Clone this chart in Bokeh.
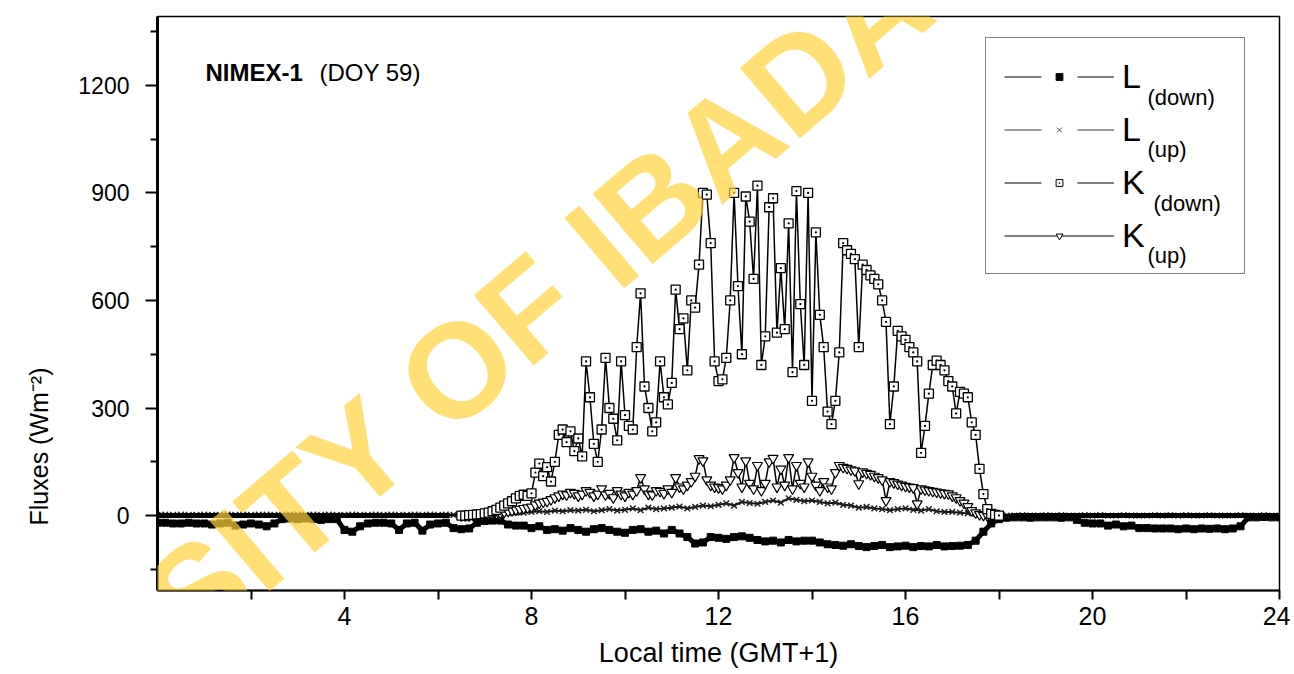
import numpy as np
from bokeh.plotting import figure
from bokeh.models import Range1d, FixedTicker, Legend, LegendItem, Label, Title, ColumnDataSource
from bokeh.embed import file_html
from bokeh.resources import INLINE

# ---------------- data ----------------
# Longwave fluxes, sampled every 10 minutes from 00:00 to 24:00
L_STEP_MIN = 10
L_DOWN = [
    -20, -20, -22, -22, -20, -22,
    -22, -25, -22, -20, -28, -25,
    -22, -25, -30, -22, -10, -8,
    -10, -8, -10, -12, -10, -10,
    -40, -45, -30, -22, -20, -20,
    -22, -40, -22, -20, -42, -25,
    -22, -20, -35, -38, -36, -20,
    -15, -14, -14, -25, -28, -28,
    -35, -30, -40, -38, -42, -35,
    -40, -45, -38, -35, -40, -45,
    -48, -40, -38, -45, -42, -50,
    -40, -50, -60, -78, -75, -60,
    -62, -65, -60, -58, -62, -68,
    -72, -70, -75, -68, -72, -70,
    -70, -75, -80, -82, -84, -80,
    -85, -88, -85, -82, -88, -86,
    -84, -88, -85, -86, -82, -86,
    -85, -84, -82, -70, -45, -22,
    -10, -6, -5, -5, -6, -5,
    -5, -5, -6, -5, -12, -20,
    -22, -22, -28, -25, -30, -28,
    -35, -35, -36, -36, -36, -38,
    -36, -38, -36, -37, -36, -38,
    -36, -30, -5, -5, -4, -5,
    -5,
]
L_UP = [
    2, 3, 2, 3, 2, 2,
    3, 2, 2, 3, 2, 3,
    2, 3, 3, 2, 2, 3,
    3, 2, 3, 2, 3, 2,
    2, 3, 2, 2, 3, 2,
    3, 2, 2, 3, 2, 3,
    2, 3, 2, 3, 3, 4,
    4, 5, 6, 7, 8, 8,
    10, 12, 10, 14, 12, 15,
    14, 16, 12, 15, 18, 14,
    16, 20, 15, 22, 18, 20,
    22, 25, 20, 24, 28, 26,
    30, 34, 28, 38, 35, 33,
    38, 42, 36, 48, 44, 40,
    42, 38, 34, 36, 30, 28,
    22, 24, 20, 18, 15, 18,
    20, 16, 14, 18, 12, 10,
    10, 8, 6, 5, 3, 2,
    1, 0, 0, 1, 0, 0,
    1, 0, 1, 0, 0, 1,
    0, 1, 0, 0, 1, 0,
    0, 0, 1, 0, 1, 0,
    1, 0, 0, 1, 0, 0,
    0, 1, 0, 0, 1, 0,
    0,
]

# Shortwave fluxes: 15-min at night, 5-min from 06:30 to 18:00
K_NIGHT_AM = [0, 0, 0, 0, 0, 0, 0, 0, 0, 0, 0, 0, 0,
              0, 0, 0, 0, 0, 0, 0, 0, 0, 0, 0, 0, 0]          # 00:00-06:15
K_NIGHT_PM = [0, 0, 0, 0, 0, 0, 0, 0, 0, 0, 0, 0,
              0, 0, 0, 0, 0, 0, 0, 0, 0, 0, 0, 0]             # 18:15-24:00
K_DOWN_DAY = [
    0, 0, 1, 2, 3, 4,
    6, 8, 12, 16, 22, 28, 34, 40, 48, 55, 58, 55,
    62, 120, 145, 110, 135, 95, 150, 225, 240, 205, 235, 180,
    215, 165, 430, 330, 200, 150, 240, 440, 300, 270, 210, 430,
    280, 250, 240, 470, 620, 360, 300, 235, 260, 430, 330, 310,
    370, 630, 520, 550, 405, 600, 580, 700, 900, 895, 760, 430,
    375, 380, 440, 600, 900, 640, 450, 890, 820, 660, 920, 420,
    500, 860, 885, 510, 690, 520, 815, 400, 905, 590, 420, 900,
    320, 790, 560, 470, 290, 255, 320, 455, 760, 740, 730, 715,
    470, 700, 685, 670, 660, 645, 600, 540, 255, 360, 515, 500,
    490, 470, 455, 430, 175, 250, 340, 420, 432, 420, 405, 375,
    360, 285, 345, 340, 330, 260, 225, 130, 60, 18, 5, 2,
    0,
]
K_UP_DAY = [
    0, 0, 0, 1, 1, 2,
    2, 3, 4, 6, 8, 10, 12, 14, 16, 18, 20, 22,
    24, 30, 35, 38, 40, 45, 50, 55, 60, 58, 65, 62,
    55, 60, 70, 65, 55, 60, 75, 58, 62, 50, 70, 60,
    55, 65, 60, 70, 106, 75, 60, 58, 70, 68, 62, 75,
    65, 106, 80, 75, 85, 95, 110, 159, 153, 100, 85, 80,
    78, 75, 85, 100, 162, 120, 80, 153, 90, 75, 140, 70,
    90, 150, 160, 80, 130, 85, 162, 75, 140, 90, 80, 150,
    110, 85, 70, 95, 80, 75, 120, 140, 135, 132, 128, 125,
    89, 122, 118, 115, 110, 106, 100, 42, 95, 92, 88, 85,
    82, 80, 78, 33, 75, 72, 70, 68, 66, 64, 62, 61,
    55, 50, 42, 35, 25, 14, 8, 3, 1, 0, 0, 0,
    0,
]

X_MAJOR = [4, 8, 12, 16, 20, 24]
X_MINOR = [2, 6, 10, 14, 18, 22]
Y_MAJOR = [0, 300, 600, 900, 1200]
Y_MINOR = [-150, 150, 450, 750, 1050, 1350]

SERIES_NAMES = ["L", "L", "K", "K"]
SERIES_SUBS = ["(down)", "(up)", "(down)", "(up)"]
TITLE_BOLD = "NIMEX-1"
TITLE_REST = "(DOY 59)"
X_TITLE = "Local time (GMT+1)"
Y_TITLE = "Fluxes (Wm\u207b\u00b2)"
WATERMARK = "UNIVERSITY OF IBADAN"

# ---------------- time axes ----------------
L_TIME = np.arange(len(L_DOWN)) * L_STEP_MIN / 60.0
K_TIME_AM = np.arange(len(K_NIGHT_AM)) * 0.25
K_TIME_DAY = 6.5 + np.arange(len(K_DOWN_DAY)) * 5 / 60.0
K_TIME_PM = 18.25 + np.arange(len(K_NIGHT_PM)) * 0.25
K_TIME = np.concatenate([K_TIME_AM, K_TIME_DAY, K_TIME_PM])
K_DOWN = K_NIGHT_AM + K_DOWN_DAY + K_NIGHT_PM
K_UP = K_NIGHT_AM + K_UP_DAY + K_NIGHT_PM

FONT = "Liberation Sans"

p = figure(width=1290, height=674, output_backend="svg", toolbar_location=None,
           x_range=Range1d(0, 24), y_range=Range1d(-209, 1392),
           min_border_left=157, min_border_right=11, min_border_top=16, min_border_bottom=84,
           background_fill_color="white", border_fill_color="white")
p.xgrid.visible = False
p.ygrid.visible = False
p.outline_line_color = "black"
p.outline_line_width = 1.5

xa = p.xaxis[0]
xa.ticker = FixedTicker(ticks=X_MAJOR, minor_ticks=X_MINOR)
xa.axis_label = X_TITLE
xa.axis_label_text_font = FONT
xa.axis_label_text_font_size = "27px"
xa.axis_label_text_font_style = "normal"
xa.axis_label_text_color = "black"
xa.axis_label_standoff = 10
xa.major_label_text_font = FONT
xa.major_label_text_font_size = "25px"
xa.major_label_text_color = "black"
xa.major_label_standoff = 7
xa.major_tick_in = 0
xa.major_tick_out = 9
xa.minor_tick_in = 0
xa.minor_tick_out = 9
xa.axis_line_width = 2
xa.major_tick_line_width = 2
xa.minor_tick_line_width = 2

ya = p.yaxis[0]
ya.ticker = FixedTicker(ticks=Y_MAJOR, minor_ticks=Y_MINOR)
ya.major_label_text_font = FONT
ya.major_label_text_font_size = "23px"
ya.major_label_text_color = "black"
ya.major_label_standoff = 16
ya.major_tick_in = 0
ya.major_tick_out = 12
ya.minor_tick_in = 0
ya.minor_tick_out = 7
ya.axis_line_width = 3
ya.major_tick_line_width = 2
ya.minor_tick_line_width = 2

# y title: a side title so that it can sit lower than the frame centre, as in the reference
p.add_layout(Title(text=Y_TITLE, align="left", offset=65, vertical_align="middle",
                   standoff=44, text_font=FONT, text_font_size="25px",
                   text_font_style="normal", text_color="black"), "left")

# ---------------- data renderers ----------------
src_l = ColumnDataSource(dict(t=L_TIME, down=L_DOWN, up=L_UP))
src_k = ColumnDataSource(dict(t=K_TIME, down=K_DOWN, up=K_UP))
src_kd = ColumnDataSource(dict(t=K_TIME_DAY, down=K_DOWN_DAY, up=K_UP_DAY))
src_am = ColumnDataSource(dict(t=K_TIME_AM, v=K_NIGHT_AM))
src_pm = ColumnDataSource(dict(t=K_TIME_PM, v=K_NIGHT_PM))

p.line("t", "down", source=src_l, line_color="black", line_width=5)
p.scatter("t", "down", source=src_l, marker="square", size=7, color="black")

p.line("t", "up", source=src_l, line_color="#111111", line_width=2)
p.scatter("t", "up", source=src_l, marker="x", size=8, line_color="#222222", line_width=1.5)

# dense night-time K records (appear as a solid band at zero)
p.line("t", "v", source=src_am, line_color="black", line_width=5)
p.line("t", "v", source=src_pm, line_color="black", line_width=5)

p.line("t", "up", source=src_k, line_color="black", line_width=1.5)
p.scatter("t", "up", source=src_kd, marker="inverted_triangle", size=10,
          fill_color="white", line_color="black", line_width=1.2)

p.line("t", "down", source=src_k, line_color="black", line_width=1.5)
p.scatter("t", "down", source=src_kd, marker="square_dot", size=9,
          fill_color="white", line_color="black", line_width=1.3)

# ---------------- legend (glyph-only proxies that draw nothing in the plot) ----------------
NAN = [np.nan]
dash = "37 36 37"
lg1 = [p.line(NAN, NAN, line_color="black", line_width=1.2, line_dash=dash),
       p.scatter(NAN, NAN, marker="square", size=6, color="black")]
lg2 = [p.line(NAN, NAN, line_color="#333333", line_width=1.2, line_dash=dash),
       p.scatter(NAN, NAN, marker="x", size=7, line_color="#555555")]
lg3 = [p.line(NAN, NAN, line_color="black", line_width=1.2, line_dash=dash),
       p.scatter(NAN, NAN, marker="square_dot", size=8, fill_color="white", line_color="black")]
lg4 = [p.line(NAN, NAN, line_color="black", line_width=1.2),
       p.scatter(NAN, NAN, marker="inverted_triangle", size=7, fill_color="white", line_color="black")]

legend = Legend(items=[LegendItem(label=n, renderers=r) for n, r in
                       zip(SERIES_NAMES, [lg1, lg2, lg3, lg4])],
                location=(828, 316), glyph_width=110, glyph_height=17, label_height=40,
                label_width=104, spacing=13, padding=18, label_standoff=8, margin=0,
                border_line_color="black", border_line_width=1.5,
                background_fill_alpha=0.0,
                label_text_font=FONT, label_text_font_size="34px", label_text_color="black")
p.add_layout(legend)

sub_pos = [(990, 493), (990, 441), (996, 387), (990, 335)]
for s, (sx, sy) in zip(SERIES_SUBS, sub_pos):
    p.add_layout(Label(x=sx, y=sy, x_units="screen", y_units="screen", text=s,
                       text_font=FONT, text_font_size="22px", text_color="black",
                       text_baseline="middle", text_align="left"))

# ---------------- title inside the plot ----------------
p.add_layout(Label(x=48, y=518, x_units="screen", y_units="screen", text=TITLE_BOLD,
                   text_font=FONT, text_font_size="24px", text_font_style="bold",
                   text_color="black", text_baseline="middle", text_align="left"))
p.add_layout(Label(x=162, y=518, x_units="screen", y_units="screen", text=TITLE_REST,
                   text_font=FONT, text_font_size="24px", text_color="black",
                   text_baseline="middle", text_align="left"))

# ---------------- watermark ----------------
p.add_layout(Label(x=225, y=157, x_units="screen", y_units="screen", text=WATERMARK,
                   angle=40.5, angle_units="deg", text_font=FONT, text_font_size="134px",
                   text_font_style="bold", text_color="#FFD23C", text_alpha=0.7,
                   text_baseline="middle", text_align="center", level="overlay"))

open("out.html", "w").write(file_html(p, INLINE))
